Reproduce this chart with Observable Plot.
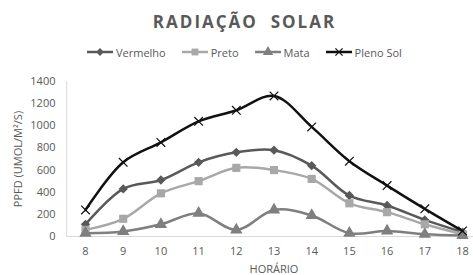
<!DOCTYPE html>
<html><head><meta charset="utf-8">
<script src="https://cdn.jsdelivr.net/npm/d3@7"></script>
<script src="https://cdn.jsdelivr.net/npm/@observablehq/plot@0.6"></script>
<style>
body{margin:0;background:#fff;font-family:"Open Sans",sans-serif;}
#wrap{width:473px;height:275px;position:relative;overflow:hidden;background:#fff}
#title{position:absolute;top:9px;left:8px;width:473px;text-align:center;font-weight:700;font-size:17px;letter-spacing:2px;color:#595959;line-height:26px;white-space:pre}
#legend{position:absolute;top:43px;left:87px;height:18px;display:flex;align-items:center;font-size:11px;color:#595959}
.item{display:flex;align-items:center;margin-right:16px}
.item svg{margin-right:3px}
#chart{position:absolute;top:62px;left:0}
</style></head><body>
<div id="wrap">
<div id="title"></div>
<div id="legend"></div>
<div id="chart"></div>
</div>
<script>
const titleText = "RADIAÇÃO  SOLAR";
const hours = [8, 9, 10, 11, 12, 13, 14, 15, 16, 17, 18];
const seriesNames = ["Vermelho", "Preto", "Mata", "Pleno Sol"];
const vermelho = [110, 430, 510, 670, 760, 780, 640, 370, 280, 150, 40];
const preto = [60, 160, 390, 500, 620, 600, 520, 300, 220, 110, 20];
const mata = [30, 45, 110, 210, 60, 240, 190, 30, 50, 20, 10];
const plenoSol = [240, 670, 850, 1040, 1140, 1270, 990, 680, 460, 250, 50];
const yTicks = [0, 200, 400, 600, 800, 1000, 1200, 1400];
const yLabel = "PPFD (UMOL/M²/S)";
const xLabel = "HORÁRIO";

const colors = ["#595959", "#a8a8a8", "#7f7f7f", "#111111"];
const symbols = ["diamond2", "square", "triangle", "times"];
const radii = [4.2, 4.6, 4.6, 4.0];
const values = [vermelho, preto, mata, plenoSol];

const rows = (i) => hours.map((h, j) => ({hour: h, value: values[i][j], series: seriesNames[i]}));

document.getElementById("title").textContent = titleText;

// Legend
const legend = document.getElementById("legend");
const symMap = {diamond2: d3.symbolDiamond2, square: d3.symbolSquare, triangle: d3.symbolTriangle, times: d3.symbolTimes};
seriesNames.forEach((name, i) => {
  const item = document.createElement("div");
  item.className = "item";
  const ns = "http://www.w3.org/2000/svg";
  const svg = document.createElementNS(ns, "svg");
  svg.setAttribute("width", 26); svg.setAttribute("height", 12);
  const ln = document.createElementNS(ns, "line");
  ln.setAttribute("x1", 0); ln.setAttribute("x2", 26); ln.setAttribute("y1", 6); ln.setAttribute("y2", 6);
  ln.setAttribute("stroke", colors[i]); ln.setAttribute("stroke-width", 2.5);
  svg.appendChild(ln);
  const p = document.createElementNS(ns, "path");
  p.setAttribute("d", d3.symbol(symMap[symbols[i]], Math.PI * radii[i] * radii[i] * 0.7)());
  p.setAttribute("transform", "translate(13,6)");
  if (symbols[i] === "times") { p.setAttribute("fill", "none"); p.setAttribute("stroke", colors[i]); p.setAttribute("stroke-width", 1.2); }
  else p.setAttribute("fill", colors[i]);
  svg.appendChild(p);
  item.appendChild(svg);
  const t = document.createElement("span");
  t.textContent = name;
  item.appendChild(t);
  legend.appendChild(item);
});

const marks = [
  Plot.ruleX([7.5], {y1: 0, y2: 1400, stroke: "#d9d9d9", strokeWidth: 1}),
  Plot.ruleY([0], {x1: 7.5, x2: 18.5, stroke: "#d9d9d9", strokeWidth: 1}),
  Plot.axisX(hours, {tickSize: 0, tickPadding: 11, fontSize: 11, fill: "#595959", label: null, tickFormat: d => String(d)}),
  Plot.axisY(yTicks, {tickSize: 0, tickPadding: 30, fontSize: 11, fill: "#595959", label: null, tickFormat: d => String(d)}),
  Plot.text([yLabel], {frameAnchor: "left", dx: -67, rotate: -90, fontSize: 11, fill: "#595959", textAnchor: "middle", lineAnchor: "middle"}),
  Plot.text([xLabel], {frameAnchor: "bottom", dy: 33, fontSize: 11, fill: "#595959", textAnchor: "middle", lineAnchor: "middle"})
];
seriesNames.forEach((name, i) => {
  const data = rows(i);
  marks.push(Plot.line(data, {x: "hour", y: "value", stroke: colors[i], strokeWidth: 2.5, curve: "catmull-rom"}));
  if (symbols[i] === "times") {
    marks.push(Plot.dot(data, {x: "hour", y: "value", symbol: "times", r: radii[i], stroke: colors[i], strokeWidth: 1.2, fill: "none"}));
  } else {
    marks.push(Plot.dot(data, {x: "hour", y: "value", symbol: symbols[i], r: radii[i], fill: colors[i], stroke: "none"}));
  }
});

const chart = Plot.plot({
  width: 473,
  height: 213,
  marginTop: 19,
  marginBottom: 39,
  marginLeft: 85,
  marginRight: 11,
  style: {fontFamily: "Open Sans", background: "#fff", overflow: "hidden"},
  x: {domain: [8, 18], axis: null},
  y: {domain: [0, 1400], axis: null},
  marks
});
document.getElementById("chart").appendChild(chart);
</script>
</body></html>
